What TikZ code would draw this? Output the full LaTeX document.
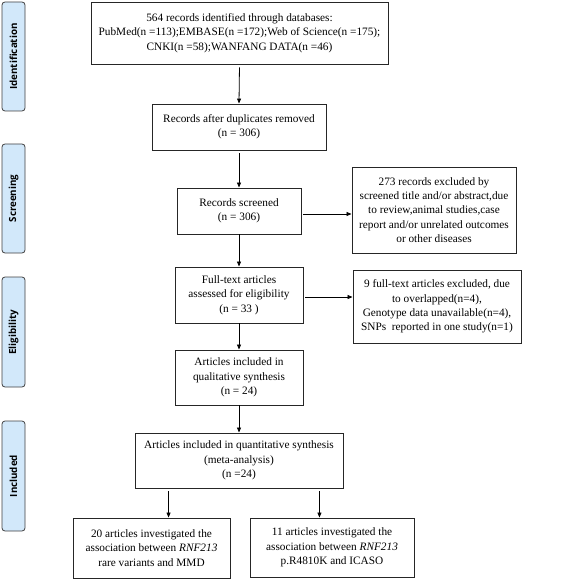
\documentclass[tikz,border=0pt]{standalone}
\usepackage{fontspec}
\setmainfont{Liberation Serif}
\newfontfamily\sidefont{Open Sans}
\usetikzlibrary{arrows.meta,calc}
\definecolor{sideblue}{HTML}{D2E8FA}
\definecolor{sideedge}{HTML}{404040}
\begin{document}
\begin{tikzpicture}[x=1pt,y=-1pt,
  box/.style={draw=black!85,line width=0.9pt,align=center,inner sep=0pt,
    font=\fontsize{11.3}{14.3}\selectfont},
  side/.style={draw=sideedge,fill=sideblue,line width=0.8pt,rounded corners=3pt,
    rotate=90,minimum height=23pt,inner sep=0pt,
    font=\sidefont\bfseries\fontsize{9.8}{11}\selectfont},
  arr/.style={line width=0.8pt,-{Triangle[length=5pt,width=4pt]}}]
\useasboundingbox (0,0) rectangle (567,580);
% side labels
\node[side,minimum width=109pt] (sid) at (13.5,56.5) {Identification};
\node[side,minimum width=109pt] (ssc) at (13.5,198.5) {Screening};
\node[side,minimum width=110pt] (sel) at (13.5,332) {Eligibility};
\node[side,minimum width=110pt] (sin) at (13.5,476) {Included};
% boxes
\node[box,minimum width=297pt,minimum height=62pt] (b1) at (239.5,33)
  {564 records identified through databases:\\PubMed(n =113);EMBASE(n =172);Web of Science(n =175);\\CNKI(n =58);WANFANG DATA(n =46)};
\node[box,minimum width=174pt,minimum height=46pt] (b2) at (239,127)
  {Records after duplicates removed\\(n = 306)};
\node[box,minimum width=124pt,minimum height=46pt] (b3) at (239,211)
  {Records screened\\(n = 306)};
\node[box,minimum width=164pt,minimum height=86pt] (e1) at (434,210)
  {273 records excluded by\\screened title and/or abstract,due\\to review,animal studies,case\\report and/or unrelated outcomes\\or other diseases};
\node[box,minimum width=128pt,minimum height=56pt] (b4) at (239,295)
  {Full-text articles\\assessed for eligibility\\(n = 33 )};
\node[box,minimum width=168pt,minimum height=73pt] (e2) at (437,306.5)
  {9 full-text articles excluded, due\\to overlapped(n=4),\\Genotype data unavailable(n=4),\\SNPs\ \ reported in one study(n=1)};
\node[box,minimum width=128pt,minimum height=55pt] (b5) at (239,377.5)
  {Articles included in\\qualitative synthesis\\(n = 24)};
\node[box,minimum width=208pt,minimum height=55pt] (b6) at (239,460.5)
  {Articles included in quantitative synthesis\\(meta-analysis)\\(n =24)};
\node[box,minimum width=157pt,minimum height=60pt] (b7) at (151.5,548)
  {20 articles investigated the\\association between \textit{RNF213}\\rare variants and MMD};
\node[box,minimum width=164pt,minimum height=59pt] (b8) at (332,547.5)
  {11 articles investigated the\\association between \textit{RNF213}\\p.R4810K and ICASO};
% arrows
\draw[arr,shorten <=3pt] (b1.south) -- (b2.north);
\draw[arr,shorten <=3pt] (b2.south) -- (b3.north);
\draw[arr] (b3.south) -- (b4.north);
\draw[arr] (b4.south) -- (b5.north);
\draw[arr] (b5.south) -- (b6.north);
\draw[arr,shorten <=2pt] (b3.east |- e1.west) ++(0,4) coordinate (c1) -- (c1 -| e1.west);
\draw[arr,shorten <=2pt] (b4.east) ++(0,2) coordinate (c2) -- (c2 -| e2.west);
\coordinate (c3) at ($(b6.south west)+(34,0)$);
\coordinate (c4) at ($(b6.south east)+(-24,0)$);
\draw[arr,shorten <=3pt] (c3) -- (c3 |- b7.north);
\draw[arr,shorten <=3pt] (c4) -- (c4 |- b8.north);
\end{tikzpicture}
\end{document}
